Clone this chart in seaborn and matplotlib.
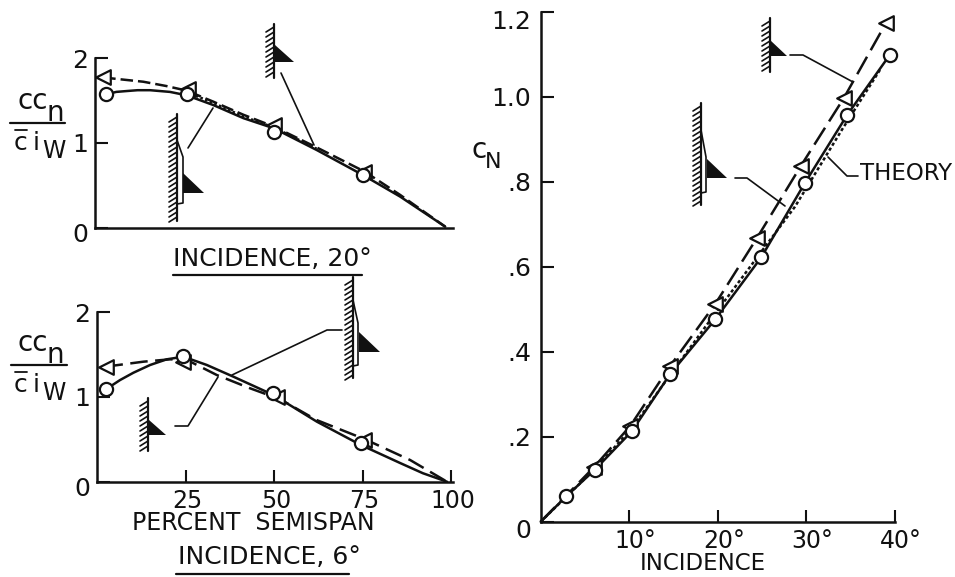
import matplotlib
matplotlib.use("Agg")
import matplotlib.pyplot as plt
from matplotlib.transforms import ScaledTranslation
import seaborn as sns

W, H = 955, 577

# span loading, incidence 20
top_solid_x = [3.1, 6, 8.9, 12, 15.5, 21.1, 25.8, 33.3, 41.8, 50.4, 62.4, 75.4, 85.9, 98.6]
top_solid_y = [1.57, 1.60, 1.61, 1.62, 1.62, 1.60, 1.56, 1.445, 1.29, 1.17, 0.915, 0.62, 0.365, 0.01]
top_dash_x = [2.3, 13.6, 20, 25.8, 33.3, 41.8, 50.4, 62.4, 75.9, 85.9, 98.6]
top_dash_y = [1.77, 1.72, 1.67, 1.615, 1.485, 1.33, 1.19, 0.945, 0.66, 0.385, 0.01]
top_dot_x = [25.8, 33.3, 41.8, 50.4, 62.4]
top_dot_y = [1.60, 1.47, 1.31, 1.18, 0.93]
top_circ_x = [3.1, 25.9, 50.4, 75.5]
top_circ_y = [1.575, 1.57, 1.13, 0.62]
top_tri_x = [2.3, 26.1, 50.4, 75.6]
top_tri_y = [1.77, 1.63, 1.21, 0.66]

# incidence 6
low_solid_x = [2.5, 6.5, 10.3, 15, 19.7, 24.4, 31, 38.5, 49.8, 62.1, 74.5, 85.6, 92, 98.8]
low_solid_y = [1.09, 1.20, 1.287, 1.378, 1.445, 1.476, 1.378, 1.24, 1.024, 0.708, 0.433, 0.22, 0.10, 0]
low_dash_x = [2.4, 13.1, 20.6, 25.4, 33.8, 43.2, 51.7, 62, 75.7, 88.4, 98.8]
low_dash_y = [1.358, 1.417, 1.445, 1.437, 1.26, 1.103, 0.973, 0.728, 0.5, 0.256, 0]
low_circ_x = [2.5, 24.4, 49.8, 74.5]
low_circ_y = [1.09, 1.484, 1.05, 0.453]
low_tri_x = [2.4, 24.4, 50.7, 75.5]
low_tri_y = [1.358, 1.417, 1.0, 0.49]

# normal force against incidence
cn_circ_x = [2.9, 6.1, 10.3, 14.6, 19.7, 24.9, 29.8, 34.6, 39.4]
cn_circ_y = [0.06, 0.122, 0.213, 0.347, 0.476, 0.622, 0.796, 0.957, 1.098]
cn_tri_x = [6.0, 10.1, 14.6, 19.7, 24.4, 29.4, 34.2, 39.0]
cn_tri_y = [0.128, 0.225, 0.366, 0.512, 0.667, 0.838, 0.996, 1.174]
theory_x = [0, 6, 10.3, 14.6, 19.7, 21.4, 25.9, 28.7, 34, 38.3]
theory_y = [0, 0.122, 0.22, 0.345, 0.49, 0.537, 0.663, 0.741, 0.922, 1.063]

span_ticks = [25, 50, 75, 100]
cl_ticks = [0, 1, 2]
cn_ticks = [0, 0.2, 0.4, 0.6, 0.8, 1.0, 1.2]
cn_labels = ["0", ".2", ".4", ".6", ".8", "1.0", "1.2"]
inc_ticks = [10, 20, 30, 40]
inc_labels = ["10°", "20°", "30°", "40°"]

sns.set_style("white")
INK = "#111111"
plt.rcParams["font.family"] = ["DejaVu Sans"]
plt.rcParams["text.color"] = INK
FS = 18


def make_axes(fig, left, right, top, bottom):
    ax = fig.add_axes([left / W, 1 - bottom / H, (right - left) / W, (bottom - top) / H])
    ax.patch.set_alpha(0)
    sns.despine(ax=ax)
    for side in ["left", "bottom"]:
        ax.spines[side].set_linewidth(1.8)
        ax.spines[side].set_color(INK)
    ax.tick_params(direction="in", length=9, width=1.5, colors=INK, labelsize=17,
                   left=True, bottom=True)
    return ax


def draw_line(ax, x, y, **kw):
    sns.lineplot(x=x, y=y, ax=ax, color=INK, sort=False, estimator=None, legend=False,
                 clip_on=False, linewidth=1.8, **kw)


def draw_pts(ax, x, y, marker, size):
    sns.scatterplot(x=x, y=y, ax=ax, marker=marker, s=size, facecolor="white", edgecolor=INK,
                    linewidth=1.6, legend=False, clip_on=False, zorder=5)


def nudge(label, dx, dy):
    # px to the right / px down
    label.set_transform(label.get_transform() + ScaledTranslation(dx / 100, -dy / 100, fig.dpi_scale_trans))


fig = plt.figure(figsize=(W / 100, H / 100), dpi=100)

# upper left
ax1 = make_axes(fig, 95, 453, 58, 227.5)
draw_line(ax1, top_solid_x, top_solid_y)
draw_line(ax1, top_dash_x, top_dash_y, linestyle=(0, (5, 2)))
draw_line(ax1, top_dot_x, top_dot_y, linestyle=(0, (1, 1)))
draw_pts(ax1, top_tri_x, top_tri_y, "<", 110)
draw_pts(ax1, top_circ_x, top_circ_y, "o", 90)
ax1.set_xlim(0, 100.8)
ax1.set_ylim(0, 2)
ax1.set_xticks([])
ax1.set_yticks(cl_ticks)
ax1.set_yticklabels(["0", "1", "2"], fontsize=18)
ax1.tick_params(axis="y", pad=5)
nudge(ax1.get_yticklabels()[0], 0, 5)

# lower left
ax2 = make_axes(fig, 97, 453, 312.3, 481.7)
draw_line(ax2, low_solid_x, low_solid_y)
draw_line(ax2, low_dash_x, low_dash_y, linestyle=(0, (7, 3)))
draw_pts(ax2, low_tri_x, low_tri_y, "<", 110)
draw_pts(ax2, low_circ_x, low_circ_y, "o", 90)
ax2.set_xlim(0, 100.5)
ax2.set_ylim(0, 2)
ax2.set_xticks(span_ticks)
ax2.set_xticklabels(["25", "50", "75", "100"])
ax2.set_yticks(cl_ticks)
ax2.set_yticklabels(["0", "1", "2"], fontsize=18)
ax2.tick_params(axis="y", pad=5)
ax2.tick_params(axis="x", pad=5)
nudge(ax2.get_yticklabels()[0], 0, 5)
for lab in ax2.get_xticklabels():
    nudge(lab, 2, 0)

# right
ax3 = make_axes(fig, 540.7, 895, 11.7, 521.7)
draw_line(ax3, [0] + cn_circ_x, [0] + cn_circ_y)
draw_line(ax3, [0] + cn_tri_x, [0] + cn_tri_y, linestyle=(0, (8, 3)))
draw_line(ax3, theory_x, theory_y, linestyle=(0, (1.3, 1)))
draw_pts(ax3, cn_tri_x, cn_tri_y, "<", 110)
draw_pts(ax3, cn_circ_x, cn_circ_y, "o", 90)
ax3.set_xlim(0, 40)
ax3.set_ylim(0, 1.2)
ax3.set_xticks(inc_ticks)
ax3.set_xticklabels(inc_labels)
ax3.set_yticks(cn_ticks)
ax3.set_yticklabels(cn_labels, fontsize=18)
ax3.tick_params(axis="y", pad=7)
ax3.tick_params(axis="x", pad=5)
nudge(ax3.get_yticklabels()[0], 0, 7)
nudge(ax3.get_yticklabels()[-1], 0, 8)
for lab in ax3.get_xticklabels():
    nudge(lab, 6, 0)

# page overlay in picture pixels, for lettering and the little wing sketches
ov = fig.add_axes([0, 0, 1, 1])
ov.set_xlim(0, W)
ov.set_ylim(H, 0)
ov.axis("off")


def wall(x, y0, y1):
    ov.plot([x, x], [y0, y1], color=INK, lw=1.6)
    y = y0 + 3
    while y < y1 - 2:
        ov.plot([x, x - 8], [y, y + 5], color=INK, lw=1.2)
        y += 5


def wing(x, y0, y1, tri, flap=None):
    wall(x, y0, y1)
    ov.fill(*zip(*tri), color=INK, lw=0)
    if flap:
        ov.plot(*zip(*flap), color=INK, lw=1.2)


wing(274, 24, 78, [(275, 45), (294, 62), (275, 62)])
wing(177, 114, 221, [(183, 173), (204, 193), (183, 193)],
     [(177, 140), (183, 157), (183, 203), (177, 204)])
wing(353, 277, 378, [(359, 332), (380, 352), (359, 352)],
     [(353, 300), (358, 323), (358, 365), (353, 366)])
wing(148, 398, 451, [(149, 420), (166, 435), (149, 435)])
wing(770, 18, 72, [(770, 40), (787, 56), (770, 56)])
wing(701, 103, 205, [(707, 159), (727, 178), (707, 178)],
     [(701, 130), (706, 157), (706, 192), (701, 193)])

leaders = [
    [(281, 73), (314, 145)],
    [(213, 108), (188, 148)],
    [(342, 330), (327, 330), (232, 375)],
    [(175, 426), (188, 426), (218, 377)],
    [(790, 55), (803, 55), (853, 82)],
    [(735, 178), (747, 178), (785, 206)],
    [(828, 157), (847, 176), (858, 176)],
]
for pts in leaders:
    ov.plot(*zip(*pts), color=INK, lw=1.2)

ov.plot([173, 362], [275, 275], color=INK, lw=1.6)
ov.plot([176, 349], [574, 574], color=INK, lw=1.6)

# cc_n / c i_w fractions
for yc, xl, xr in [(123, 10, 65), (365, 11, 67)]:
    ov.plot([xl, xr], [yc, yc], color=INK, lw=1.6)
    ov.text(17, yc - 22, "cc", fontsize=20, ha="left", va="center")
    ov.text(46, yc - 10, "n", fontsize=20, ha="left", va="center")
    ov.text(14, yc + 20, "c", fontsize=18, ha="left", va="center")
    ov.plot([15, 27], [yc + 7, yc + 7], color=INK, lw=1.3)
    ov.text(33, yc + 20, "i", fontsize=18, ha="left", va="center")
    ov.text(42, yc + 28, "W", fontsize=17, ha="left", va="center")

ov.text(272, 259, "INCIDENCE, 20°", fontsize=FS, ha="center", va="center")
ov.text(269, 557, "INCIDENCE, 6°", fontsize=FS, ha="center", va="center")
ov.text(253, 523, "PERCENT  SEMISPAN", fontsize=17, ha="center", va="center")
ov.text(703, 564, "INCIDENCE", fontsize=16.5, ha="center", va="center")
ov.text(906, 174, "THEORY", fontsize=16.5, ha="center", va="center")
ov.text(471, 150, "c", fontsize=20, ha="left", va="center")
ov.text(485, 162, "N", fontsize=16, ha="left", va="center")

fig.savefig("out.png", dpi=100, facecolor="white")
